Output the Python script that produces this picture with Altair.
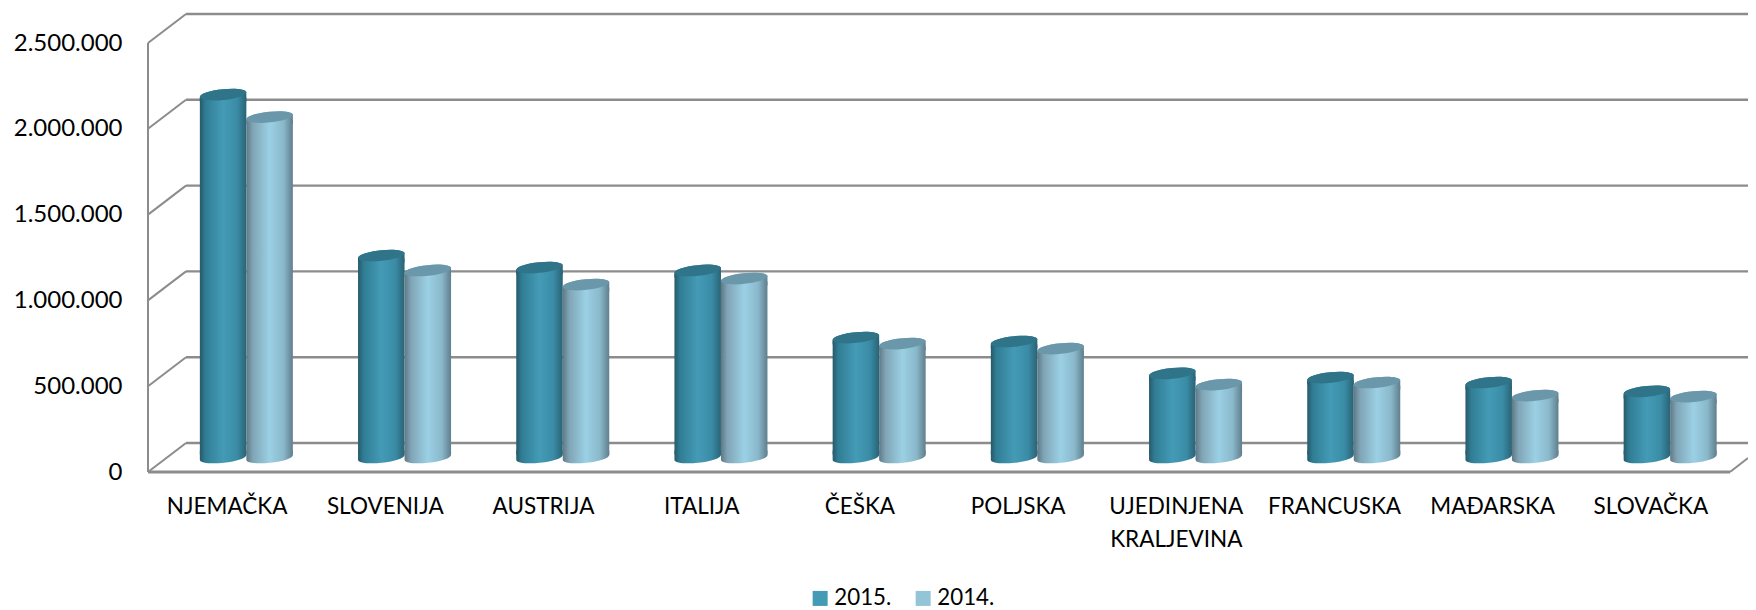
import altair as alt
import pandas as pd

categories = ["NJEMAČKA", "SLOVENIJA", "AUSTRIJA", "ITALIJA", "ČEŠKA", "POLJSKA",
              "UJEDINJENA KRALJEVINA", "FRANCUSKA", "MAĐARSKA", "SLOVAČKA"]
values_2015 = [2115000, 1177000, 1107000, 1090000, 699000, 676000, 490000, 466000, 437000, 385000]
values_2014 = [1984000, 1090000, 1008000, 1043000, 664000, 635000, 425000, 437000, 361000, 355000]
series = ["2015.", "2014."]
ticks = [0, 500000, 1000000, 1500000, 2000000, 2500000]

FONT = "Lato"
GRID = "#8c8c8c"
W, H, FLOOR_W, DEPTH_X, DEPTH_Y = 1600, 429, 1582, 38, 29
MID_Y = -14.5
BAR_W = 46.5
INSET = 3
ELLIPSE = "M-1,0.105 A1.005,0.23 -6 1 1 1,-0.105 A1.005,0.23 -6 1 1 -1,0.105 Z"
SHOULDER = "M-1,0.105 A1.005,0.23 -6 1 1 1,-0.105 L1,0.3 L-1,0.3 Z"
FOOT = "M-1,-0.3 L1,-0.3 L1,-0.105 A1.005,0.23 -6 1 1 -1,0.105 Z"

def grad(stops):
    return alt.Gradient(gradient="linear", x1=0, x2=1, y1=0, y2=0,
                        stops=[alt.GradientStop(offset=o, color=c) for o, c in stops])

GRAD_A = grad([(0, "#27596a"), (0.12, "#307d94"), (0.5, "#449bb6"), (0.8, "#3a8ca6"), (1, "#2a6375")])
GRAD_B = grad([(0, "#5f7986"), (0.14, "#80a5b6"), (0.5, "#9bd0e4"), (0.8, "#8ab8cb"), (1, "#5f7f8d")])

df = pd.DataFrame({"cat": categories, "a": values_2015, "b": values_2014})
long_df = pd.DataFrame({
    "cat": categories * 2,
    "val": values_2015 + values_2014,
    "series": [series[0]] * 10 + [series[1]] * 10,
})
tick_df = pd.DataFrame({"v": ticks})

yscale = alt.Scale(domain=[0, 2500000], nice=False, zero=True)
xscale = alt.Scale(domain=categories, range=[0, FLOOR_W], paddingInner=0, paddingOuter=0)

y_axis = alt.Axis(values=ticks, title=None, grid=False, domain=False, ticks=False, labelPadding=26,
                  labelFont=FONT, labelFontSize=24, labelColor="#000000",
                  labelExpr="replace(format(datum.value, ','), /,/g, '.')")
x_axis = alt.Axis(title=None, domain=False, ticks=False, grid=False, labelAngle=0, labelPadding=23,
                  labelFont=FONT, labelFontSize=22.5, labelColor="#000000", labelLimit=0, labelLineHeight=33,
                  labelBaseline="top",
                  labelExpr="datum.value == 'UJEDINJENA KRALJEVINA' ? ['UJEDINJENA', 'KRALJEVINA'] : datum.label")

def Yf(field):
    return alt.Y(field, scale=yscale, axis=y_axis)

X = alt.X("cat:N", scale=xscale, axis=x_axis, sort=categories)

grid_back = alt.Chart(tick_df).mark_rule(color=GRID, strokeWidth=2.4, yOffset=-DEPTH_Y).encode(
    y=Yf("v:Q"), x=alt.value(DEPTH_X), x2=alt.value(W))
grid_side = alt.Chart(tick_df).mark_rule(color=GRID, strokeWidth=2, y2Offset=-DEPTH_Y).encode(
    y=Yf("v:Q"), y2="v:Q", x=alt.value(0), x2=alt.value(DEPTH_X))
grid_right = alt.Chart(tick_df[tick_df.v == 0]).mark_rule(color=GRID, strokeWidth=2, y2Offset=-14).encode(
    y=Yf("v:Q"), y2="v:Q", x=alt.value(FLOOR_W), x2=alt.value(W))
floor_front = alt.Chart(tick_df[tick_df.v == 0]).mark_rule(color=GRID, strokeWidth=2.8).encode(
    y=Yf("v:Q"), x=alt.value(0), x2=alt.value(FLOOR_W))
wall_back = alt.Chart(pd.DataFrame({"v": [0], "v2": [2500000]})).mark_rule(color=GRID, strokeWidth=2).encode(
    y=Yf("v:Q"), y2="v2:Q", x=alt.value(0))

legend_layer = alt.Chart(long_df).mark_square(size=1, opacity=1).encode(
    x=X,
    y=Yf("val:Q"),
    color=alt.Color("series:N", scale=alt.Scale(domain=series, range=["#449bb6", "#94c4d8"]),
                    legend=alt.Legend(title=None, orient="none", legendX=661, legendY=544,
                                      direction="horizontal", symbolType="square", symbolSize=225,
                                      symbolStrokeWidth=0, labelFont=FONT, labelFontSize=22.3,
                                      labelColor="#000000", columnPadding=20, labelOffset=3, padding=0)),
)

def cylinder(col, offset, body, cap):
    common = dict(size=BAR_W ** 2, filled=True, opacity=1, xOffset=offset, yOffset=MID_Y)
    foot = alt.Chart(df).mark_point(shape=FOOT, fill=body, **common).encode(
        x=X, y=alt.Y("zero:Q", scale=yscale, axis=y_axis)).transform_calculate(zero="0")
    bar = alt.Chart(df).mark_bar(size=BAR_W, fill=body, xOffset=offset,
                                 yOffset=MID_Y + INSET, y2Offset=MID_Y - INSET).encode(
        x=X, y=Yf(f"{col}:Q"), y2=alt.datum(0))
    shoulder = alt.Chart(df).mark_point(shape=SHOULDER, fill=body, **common).encode(
        x=X, y=Yf(f"{col}:Q"))
    top = alt.Chart(df).mark_point(shape=ELLIPSE, fill=cap, **common).encode(
        x=X, y=Yf(f"{col}:Q"))
    return [foot, bar, shoulder, top]

layers = [grid_back, grid_side, grid_right, wall_back, floor_front, legend_layer]
layers += cylinder("a", -4, GRAD_A, "#2f7488")
layers += cylinder("b", 42.5, GRAD_B, "#6a97aa")

chart = alt.layer(*layers).properties(
    width=W, height=H,
    autosize=alt.AutoSizeParams(type="none"),
    padding={"left": 140, "top": 35, "right": 0, "bottom": 138},
).configure_view(stroke=None)

chart.save("out.html", embed_options={"renderer": "svg", "actions": False})
